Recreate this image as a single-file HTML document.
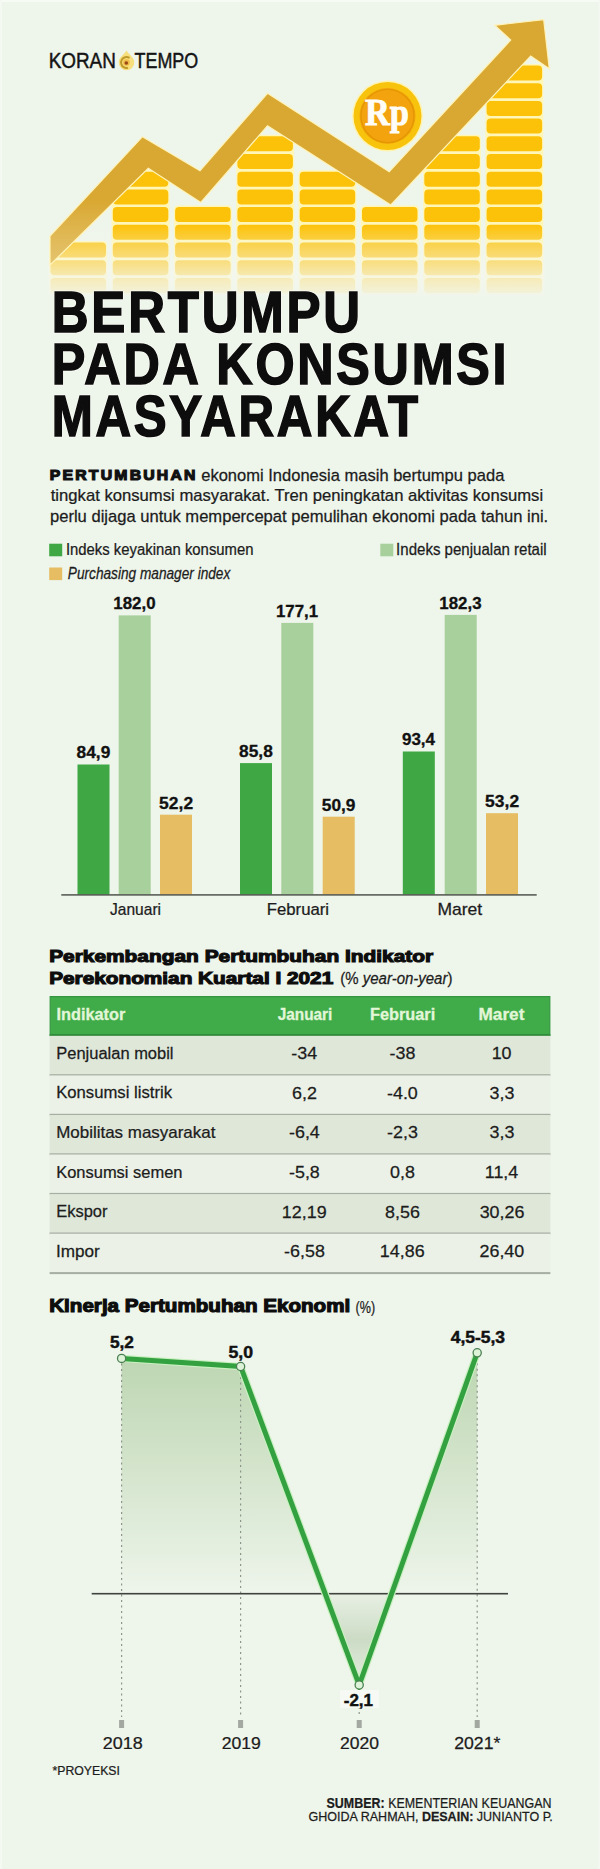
<!DOCTYPE html>
<html><head><meta charset="utf-8">
<style>
html,body{margin:0;padding:0;width:600px;height:1869px;overflow:hidden;background:#eef5eb;}
svg{display:block;}
text{font-family:"Liberation Sans",sans-serif;}
</style></head>
<body>
<svg width="600" height="1869" viewBox="0 0 600 1869">
<defs>
  <filter id="soft" x="-20%" y="-20%" width="140%" height="140%"><feGaussianBlur stdDeviation="0.45"/></filter>
  <linearGradient id="coinfade" gradientUnits="userSpaceOnUse" x1="0" y1="226" x2="0" y2="295">
    <stop offset="0" stop-color="#fff" stop-opacity="1"/>
    <stop offset="1" stop-color="#fff" stop-opacity="0.35"/>
  </linearGradient>
  <mask id="coinmask" maskUnits="userSpaceOnUse" x="0" y="0" width="600" height="300">
    <rect x="0" y="0" width="600" height="226" fill="#fff"/>
    <rect x="0" y="226" width="600" height="74" fill="url(#coinfade)"/>
  </mask>
  <linearGradient id="coinwash" gradientUnits="userSpaceOnUse" x1="0" y1="224" x2="0" y2="296">
    <stop offset="0" stop-color="#fbfaf0" stop-opacity="0"/>
    <stop offset="0.55" stop-color="#fbfaf0" stop-opacity="0.3"/>
    <stop offset="1" stop-color="#f1f6ec" stop-opacity="0.8"/>
  </linearGradient>
  <linearGradient id="bandg" gradientUnits="userSpaceOnUse" x1="0" y1="200" x2="0" y2="268">
    <stop offset="0" stop-color="#d9a832"/>
    <stop offset="1" stop-color="#e6c673"/>
  </linearGradient>
  <linearGradient id="areaUp" gradientUnits="userSpaceOnUse" x1="0" y1="1355" x2="0" y2="1593">
    <stop offset="0" stop-color="#b2cfa5" stop-opacity="0.82"/>
    <stop offset="0.55" stop-color="#b2cfa5" stop-opacity="0.38"/>
    <stop offset="1" stop-color="#b2cfa5" stop-opacity="0"/>
  </linearGradient>
  <linearGradient id="areaDown" gradientUnits="userSpaceOnUse" x1="0" y1="1594" x2="0" y2="1685">
    <stop offset="0" stop-color="#c9d8c2" stop-opacity="0.2"/>
    <stop offset="0.5" stop-color="#c3d5bb" stop-opacity="0.8"/>
    <stop offset="1" stop-color="#c9d8c2" stop-opacity="0.3"/>
  </linearGradient>
</defs>
<rect x="0" y="0" width="600" height="2" fill="#f6fbf4"/>
<rect x="0" y="0" width="2" height="1869" fill="#f4f9f2"/>
<rect x="598.5" y="0" width="1.5" height="1869" fill="#f3f9f1"/>
<g mask="url(#coinmask)">
<rect x="49.3" y="241.0" width="57.9" height="53.5" rx="4" fill="#fff6b8"/>
<rect x="50.5" y="242.5" width="55.5" height="15" rx="4" fill="#fcc20a"/>
<rect x="50.5" y="260.2" width="55.5" height="15" rx="4" fill="#fcc20a"/>
<rect x="50.5" y="277.9" width="55.5" height="15" rx="4" fill="#fcc20a"/>
<rect x="111.6" y="170.2" width="57.9" height="124.3" rx="4" fill="#fff6b8"/>
<rect x="112.8" y="171.7" width="55.5" height="15" rx="4" fill="#fcc20a"/>
<rect x="112.8" y="189.4" width="55.5" height="15" rx="4" fill="#fcc20a"/>
<rect x="112.8" y="207.1" width="55.5" height="15" rx="4" fill="#fcc20a"/>
<rect x="112.8" y="224.8" width="55.5" height="15" rx="4" fill="#fcc20a"/>
<rect x="112.8" y="242.5" width="55.5" height="15" rx="4" fill="#fcc20a"/>
<rect x="112.8" y="260.2" width="55.5" height="15" rx="4" fill="#fcc20a"/>
<rect x="112.8" y="277.9" width="55.5" height="15" rx="4" fill="#fcc20a"/>
<rect x="173.9" y="205.6" width="57.9" height="88.9" rx="4" fill="#fff6b8"/>
<rect x="175.1" y="207.1" width="55.5" height="15" rx="4" fill="#fcc20a"/>
<rect x="175.1" y="224.8" width="55.5" height="15" rx="4" fill="#fcc20a"/>
<rect x="175.1" y="242.5" width="55.5" height="15" rx="4" fill="#fcc20a"/>
<rect x="175.1" y="260.2" width="55.5" height="15" rx="4" fill="#fcc20a"/>
<rect x="175.1" y="277.9" width="55.5" height="15" rx="4" fill="#fcc20a"/>
<rect x="236.2" y="134.8" width="57.9" height="159.7" rx="4" fill="#fff6b8"/>
<rect x="237.4" y="136.3" width="55.5" height="15" rx="4" fill="#fcc20a"/>
<rect x="237.4" y="154.0" width="55.5" height="15" rx="4" fill="#fcc20a"/>
<rect x="237.4" y="171.7" width="55.5" height="15" rx="4" fill="#fcc20a"/>
<rect x="237.4" y="189.4" width="55.5" height="15" rx="4" fill="#fcc20a"/>
<rect x="237.4" y="207.1" width="55.5" height="15" rx="4" fill="#fcc20a"/>
<rect x="237.4" y="224.8" width="55.5" height="15" rx="4" fill="#fcc20a"/>
<rect x="237.4" y="242.5" width="55.5" height="15" rx="4" fill="#fcc20a"/>
<rect x="237.4" y="260.2" width="55.5" height="15" rx="4" fill="#fcc20a"/>
<rect x="237.4" y="277.9" width="55.5" height="15" rx="4" fill="#fcc20a"/>
<rect x="298.5" y="170.2" width="57.9" height="124.3" rx="4" fill="#fff6b8"/>
<rect x="299.7" y="171.7" width="55.5" height="15" rx="4" fill="#fcc20a"/>
<rect x="299.7" y="189.4" width="55.5" height="15" rx="4" fill="#fcc20a"/>
<rect x="299.7" y="207.1" width="55.5" height="15" rx="4" fill="#fcc20a"/>
<rect x="299.7" y="224.8" width="55.5" height="15" rx="4" fill="#fcc20a"/>
<rect x="299.7" y="242.5" width="55.5" height="15" rx="4" fill="#fcc20a"/>
<rect x="299.7" y="260.2" width="55.5" height="15" rx="4" fill="#fcc20a"/>
<rect x="299.7" y="277.9" width="55.5" height="15" rx="4" fill="#fcc20a"/>
<rect x="360.8" y="205.6" width="57.9" height="88.9" rx="4" fill="#fff6b8"/>
<rect x="362.0" y="207.1" width="55.5" height="15" rx="4" fill="#fcc20a"/>
<rect x="362.0" y="224.8" width="55.5" height="15" rx="4" fill="#fcc20a"/>
<rect x="362.0" y="242.5" width="55.5" height="15" rx="4" fill="#fcc20a"/>
<rect x="362.0" y="260.2" width="55.5" height="15" rx="4" fill="#fcc20a"/>
<rect x="362.0" y="277.9" width="55.5" height="15" rx="4" fill="#fcc20a"/>
<rect x="423.1" y="134.8" width="57.9" height="159.7" rx="4" fill="#fff6b8"/>
<rect x="424.3" y="136.3" width="55.5" height="15" rx="4" fill="#fcc20a"/>
<rect x="424.3" y="154.0" width="55.5" height="15" rx="4" fill="#fcc20a"/>
<rect x="424.3" y="171.7" width="55.5" height="15" rx="4" fill="#fcc20a"/>
<rect x="424.3" y="189.4" width="55.5" height="15" rx="4" fill="#fcc20a"/>
<rect x="424.3" y="207.1" width="55.5" height="15" rx="4" fill="#fcc20a"/>
<rect x="424.3" y="224.8" width="55.5" height="15" rx="4" fill="#fcc20a"/>
<rect x="424.3" y="242.5" width="55.5" height="15" rx="4" fill="#fcc20a"/>
<rect x="424.3" y="260.2" width="55.5" height="15" rx="4" fill="#fcc20a"/>
<rect x="424.3" y="277.9" width="55.5" height="15" rx="4" fill="#fcc20a"/>
<rect x="485.4" y="64.0" width="57.9" height="230.5" rx="4" fill="#fff6b8"/>
<rect x="486.6" y="65.5" width="55.5" height="15" rx="4" fill="#fcc20a"/>
<rect x="486.6" y="83.2" width="55.5" height="15" rx="4" fill="#fcc20a"/>
<rect x="486.6" y="100.9" width="55.5" height="15" rx="4" fill="#fcc20a"/>
<rect x="486.6" y="118.6" width="55.5" height="15" rx="4" fill="#fcc20a"/>
<rect x="486.6" y="136.3" width="55.5" height="15" rx="4" fill="#fcc20a"/>
<rect x="486.6" y="154.0" width="55.5" height="15" rx="4" fill="#fcc20a"/>
<rect x="486.6" y="171.7" width="55.5" height="15" rx="4" fill="#fcc20a"/>
<rect x="486.6" y="189.4" width="55.5" height="15" rx="4" fill="#fcc20a"/>
<rect x="486.6" y="207.1" width="55.5" height="15" rx="4" fill="#fcc20a"/>
<rect x="486.6" y="224.8" width="55.5" height="15" rx="4" fill="#fcc20a"/>
<rect x="486.6" y="242.5" width="55.5" height="15" rx="4" fill="#fcc20a"/>
<rect x="486.6" y="260.2" width="55.5" height="15" rx="4" fill="#fcc20a"/>
<rect x="486.6" y="277.9" width="55.5" height="15" rx="4" fill="#fcc20a"/>
</g>
<rect x="48.5" y="224" width="496" height="72" fill="url(#coinwash)"/>
<polygon fill="url(#bandg)" stroke="#fff3b8" stroke-width="1.2"
  points="50,236 142.5,136.7 200,170.8 267.5,93.3 389.2,171.7 510.7,40 494.7,25.3 543.7,19.6 549.3,68.7 530.7,56 390.8,205 267.5,125.8 200.8,202.5 148.3,168.3 50,265"/>
<circle cx="387.5" cy="116" r="35.5" fill="#fff3b0"/>
<circle cx="387.5" cy="116" r="34" fill="#f8c30c"/>
<circle cx="387.5" cy="116" r="28" fill="#f2a30e"/>
<circle cx="387.5" cy="116" r="26.5" fill="none" stroke="#e39600" stroke-width="1.2"/>
<text x="387" y="125" style="font-family:'Liberation Serif',serif;font-weight:bold;font-size:37px" fill="#fffdf5" stroke="#fffdf5" stroke-width="0.9" text-anchor="middle" textLength="44" lengthAdjust="spacingAndGlyphs">Rp</text>
<g filter="url(#soft)">
<path d="M126.5 50.5 C129 55 134.3 57 134.3 62.5 A7.8 7.8 0 0 1 118.7 62.5 C118.7 57 124 55 126.5 50.5 Z" fill="#f7df7e"/>
<circle cx="126.5" cy="62.5" r="5.4" fill="none" stroke="#bf9a2c" stroke-width="2" stroke-dasharray="21 13" transform="rotate(75 126.5 62.5)"/>
<circle cx="126.5" cy="62.5" r="3.3" fill="#f0bc48"/>
<circle cx="126.3" cy="63" r="1.8" fill="#9a4a18"/>
</g>
<rect x="49.2" y="543.7" width="13" height="12.6" fill="#3fa845"/>
<rect x="380.3" y="543.7" width="13" height="12.6" fill="#a8d09c"/>
<rect x="49.2" y="567.5" width="13" height="12.6" fill="#e6bd62"/>
<rect x="77.5" y="764.5" width="32" height="130.4" fill="#3fa845"/>
<rect x="118.7" y="615.4" width="32" height="279.5" fill="#a8d09c"/>
<rect x="160.0" y="814.7" width="32" height="80.2" fill="#e6bd62"/>
<rect x="240.0" y="763.1" width="32" height="131.8" fill="#3fa845"/>
<rect x="281.3" y="622.9" width="32" height="272.0" fill="#a8d09c"/>
<rect x="322.7" y="816.7" width="32" height="78.2" fill="#e6bd62"/>
<rect x="402.8" y="751.5" width="32" height="143.4" fill="#3fa845"/>
<rect x="444.7" y="614.9" width="32" height="280.0" fill="#a8d09c"/>
<rect x="486.0" y="813.2" width="32" height="81.7" fill="#e6bd62"/>
<rect x="61.3" y="894.1" width="475.4" height="1.6" fill="#5a5f58"/>
<rect x="50.2" y="996.6" width="499.6" height="38.6" fill="#3fab49" stroke="#36963f" stroke-width="1.2"/>
<rect x="49.6" y="1034.3" width="500.8" height="1.8" fill="#2a8535"/>
<rect x="49.6" y="1035.8" width="500.8" height="39.6" fill="#dfe7d9"/>
<rect x="49.6" y="1074.2" width="500.8" height="2" fill="#a6ada2"/>
<rect x="49.6" y="1075.4" width="500.8" height="39.6" fill="#ebf1e7"/>
<rect x="49.6" y="1113.8" width="500.8" height="2" fill="#a6ada2"/>
<rect x="49.6" y="1115.0" width="500.8" height="39.6" fill="#dfe7d9"/>
<rect x="49.6" y="1153.3" width="500.8" height="2" fill="#a6ada2"/>
<rect x="49.6" y="1154.5" width="500.8" height="39.6" fill="#ebf1e7"/>
<rect x="49.6" y="1192.9" width="500.8" height="2" fill="#a6ada2"/>
<rect x="49.6" y="1194.1" width="500.8" height="39.6" fill="#dfe7d9"/>
<rect x="49.6" y="1232.5" width="500.8" height="2" fill="#a6ada2"/>
<rect x="49.6" y="1233.7" width="500.8" height="39.6" fill="#ebf1e7"/>
<rect x="49.6" y="1272.1" width="500.8" height="2" fill="#a6ada2"/>
<polygon points="121.6,1593.7 121.6,1358.4 240.6,1366.5 325.2,1593.7 391.6,1593.7 477.2,1352.8 477.2,1593.7" fill="url(#areaUp)"/>
<polygon points="325.2,1593.7 359.2,1685 391.6,1593.7" fill="url(#areaDown)"/>
<line x1="121.6" y1="1363.4" x2="121.6" y2="1717" stroke="#8e958b" stroke-width="1.2" stroke-dasharray="2 3.5"/>
<rect x="119.1" y="1720" width="5" height="8" fill="#a3a8a0"/>
<line x1="240.6" y1="1371.5" x2="240.6" y2="1717" stroke="#8e958b" stroke-width="1.2" stroke-dasharray="2 3.5"/>
<rect x="238.1" y="1720" width="5" height="8" fill="#a3a8a0"/>
<line x1="359.2" y1="1690" x2="359.2" y2="1717" stroke="#8e958b" stroke-width="1.2" stroke-dasharray="2 3.5"/>
<rect x="356.7" y="1720" width="5" height="8" fill="#a3a8a0"/>
<line x1="477.2" y1="1357.8" x2="477.2" y2="1717" stroke="#8e958b" stroke-width="1.2" stroke-dasharray="2 3.5"/>
<rect x="474.7" y="1720" width="5" height="8" fill="#a3a8a0"/>
<rect x="91.7" y="1592.9" width="416.3" height="1.6" fill="#3f433d"/>
<polyline points="121.6,1358.4 240.6,1366.5 359.2,1685 477.2,1352.8" fill="none" stroke="#c9f0c0" stroke-width="7.4"/>
<polyline points="121.6,1358.4 240.6,1366.5 359.2,1685 477.2,1352.8" fill="none" stroke="#33a140" stroke-width="5"/>
<circle cx="121.6" cy="1358.4" r="4.1" fill="#dcf3d8" stroke="#4b7f52" stroke-width="1.3"/>
<circle cx="240.6" cy="1366.5" r="4.1" fill="#dcf3d8" stroke="#4b7f52" stroke-width="1.3"/>
<circle cx="359.2" cy="1685" r="4.1" fill="#dcf3d8" stroke="#4b7f52" stroke-width="1.3"/>
<circle cx="477.2" cy="1352.8" r="4.1" fill="#dcf3d8" stroke="#4b7f52" stroke-width="1.3"/>
<rect x="340" y="1690" width="39" height="18" fill="#f7faf4"/>
<text transform="translate(48.65 68.3) scale(0.8918 1)" style="font-size:21.19px;" fill="#141414" stroke="#141414" stroke-width="0.45">KORAN</text>
<text transform="translate(134.55 68.3) scale(0.8459 1)" style="font-size:21.19px;" fill="#141414" stroke="#141414" stroke-width="0.45">TEMPO</text>
<text transform="translate(51.72 331.7) scale(0.8945 1)" style="font-size:57.03px;font-weight:bold;letter-spacing:3.111px;" fill="none" stroke="#fbfdf6" stroke-width="3.2" stroke-linejoin="round" opacity="0.9">BERTUMPU</text><text transform="translate(51.72 331.7) scale(0.8945 1)" style="font-size:57.03px;font-weight:bold;letter-spacing:3.111px;" fill="#0d0d0d" stroke="#0d0d0d" stroke-width="1.6">BERTUMPU</text>
<text transform="translate(51.77 384.2) scale(0.8709 1)" style="font-size:57.75px;font-weight:bold;letter-spacing:3.150px;" fill="none" stroke="#fbfdf6" stroke-width="3.2" stroke-linejoin="round" opacity="0.9">PADA KONSUMSI</text><text transform="translate(51.77 384.2) scale(0.8709 1)" style="font-size:57.75px;font-weight:bold;letter-spacing:3.150px;" fill="#0d0d0d" stroke="#0d0d0d" stroke-width="1.6">PADA KONSUMSI</text>
<text transform="translate(51.84 436.2) scale(0.8532 1)" style="font-size:57.75px;font-weight:bold;letter-spacing:3.150px;" fill="none" stroke="#fbfdf6" stroke-width="3.2" stroke-linejoin="round" opacity="0.9">MASYARAKAT</text><text transform="translate(51.84 436.2) scale(0.8532 1)" style="font-size:57.75px;font-weight:bold;letter-spacing:3.150px;" fill="#0d0d0d" stroke="#0d0d0d" stroke-width="1.6">MASYARAKAT</text>
<text transform="translate(49.75 479.9) scale(1.1479 1)" style="font-size:13.76px;font-weight:bold;letter-spacing:1.926px;" fill="#111" stroke="#111" stroke-width="1.1">PERTUMBUHAN</text>
<text transform="translate(201.23 480.6) scale(1.0202 1)" style="font-size:16.2px;" fill="#1c1c1c" stroke="#1c1c1c" stroke-width="0.25">ekonomi Indonesia masih bertumpu pada</text>
<text transform="translate(50.74 501.2) scale(1.0286 1)" style="font-size:16.2px;" fill="#1c1c1c" stroke="#1c1c1c" stroke-width="0.25">tingkat konsumsi masyarakat. Tren peningkatan aktivitas konsumsi</text>
<text transform="translate(49.98 522) scale(1.0236 1)" style="font-size:16.2px;" fill="#1c1c1c" stroke="#1c1c1c" stroke-width="0.25">perlu dijaga untuk mempercepat pemulihan ekonomi pada tahun ini.</text>
<text transform="translate(65.9 555.3) scale(0.9264 1)" style="font-size:16.07px;" fill="#1c1c1c" stroke="#1c1c1c" stroke-width="0.25">Indeks keyakinan konsumen</text>
<text transform="translate(67.87 579.3) scale(0.8498 1)" style="font-size:16.07px;font-style:italic;" fill="#1c1c1c" stroke="#1c1c1c" stroke-width="0.25">Purchasing manager index</text>
<text transform="translate(396.09 555.3) scale(0.9368 1)" style="font-size:16.07px;" fill="#1c1c1c" stroke="#1c1c1c" stroke-width="0.25">Indeks penjualan retail</text>
<text transform="translate(76.62 758.32) scale(1.011 1)" style="font-size:17.12px;font-weight:bold;" fill="#111" stroke="#111" stroke-width="0.3">84,9</text>
<text transform="translate(113.32 609.2) scale(0.9856 1)" style="font-size:17.12px;font-weight:bold;" fill="#111" stroke="#111" stroke-width="0.3">182,0</text>
<text transform="translate(159.12 808.54) scale(1.02 1)" style="font-size:17.12px;font-weight:bold;" fill="#111" stroke="#111" stroke-width="0.3">52,2</text>
<text transform="translate(110.06 914.6) scale(0.976 1)" style="font-size:15.93px;" fill="#1c1c1c" stroke="#1c1c1c" stroke-width="0.25">Januari</text>
<text transform="translate(239.12 756.94) scale(1.011 1)" style="font-size:17.12px;font-weight:bold;" fill="#111" stroke="#111" stroke-width="0.3">85,8</text>
<text transform="translate(275.93 616.72) scale(0.9856 1)" style="font-size:17.12px;font-weight:bold;" fill="#111" stroke="#111" stroke-width="0.3">177,1</text>
<text transform="translate(321.82 810.53) scale(1.011 1)" style="font-size:17.12px;font-weight:bold;" fill="#111" stroke="#111" stroke-width="0.3">50,9</text>
<text transform="translate(266.69 914.6) scale(1.0527 1)" style="font-size:15.93px;" fill="#1c1c1c" stroke="#1c1c1c" stroke-width="0.25">Februari</text>
<text transform="translate(401.93 745.26) scale(0.9934 1)" style="font-size:17.12px;font-weight:bold;" fill="#111" stroke="#111" stroke-width="0.3">93,4</text>
<text transform="translate(439.32 608.74) scale(0.9856 1)" style="font-size:17.12px;font-weight:bold;" fill="#111" stroke="#111" stroke-width="0.3">182,3</text>
<text transform="translate(485.12 807.0) scale(1.02 1)" style="font-size:17.12px;font-weight:bold;" fill="#111" stroke="#111" stroke-width="0.3">53,2</text>
<text transform="translate(437.43 914.6) scale(1.0986 1)" style="font-size:15.93px;" fill="#1c1c1c" stroke="#1c1c1c" stroke-width="0.25">Maret</text>
<text transform="translate(49.15 961.5) scale(1.2393 1)" style="font-size:16.85px;font-weight:bold;" fill="#0d0d0d" stroke="#0d0d0d" stroke-width="1.1">Perkembangan Pertumbuhan Indikator</text>
<text transform="translate(49.16 983.5) scale(1.2344 1)" style="font-size:16.85px;font-weight:bold;" fill="#0d0d0d" stroke="#0d0d0d" stroke-width="1.1">Perekonomian Kuartal I 2021</text>
<text transform="translate(340.3 984.0) scale(0.9008 1)" style="font-size:16.65px;" fill="#1c1c1c" stroke="#1c1c1c" stroke-width="0.25">(% <tspan font-style='italic'>year-on-year</tspan>)</text>
<text transform="translate(56.48 1020.0) scale(1.007 1)" style="font-size:16.21px;font-weight:bold;" fill="#e2f6d8" stroke="#e2f6d8" stroke-width="0.3">Indikator</text>
<text transform="translate(277.66 1020.0) scale(0.9486 1)" style="font-size:16.21px;font-weight:bold;" fill="#e2f6d8" stroke="#e2f6d8" stroke-width="0.3">Januari</text>
<text transform="translate(369.98 1020.0) scale(1.0068 1)" style="font-size:16.21px;font-weight:bold;" fill="#e2f6d8" stroke="#e2f6d8" stroke-width="0.3">Februari</text>
<text transform="translate(478.52 1020.0) scale(1.0617 1)" style="font-size:16.21px;font-weight:bold;" fill="#e2f6d8" stroke="#e2f6d8" stroke-width="0.3">Maret</text>
<text transform="translate(56.21 1058.8) scale(1.0178 1)" style="font-size:16.21px;" fill="#1c1c1c" stroke="#1c1c1c" stroke-width="0.25">Penjualan mobil</text>
<text transform="translate(291.36 1059.2) scale(1.04 1)" style="font-size:17.21px;" fill="#1c1c1c" stroke="#1c1c1c" stroke-width="0.25">-34</text>
<text transform="translate(389.5 1059.2) scale(1.04 1)" style="font-size:17.21px;" fill="#1c1c1c" stroke="#1c1c1c" stroke-width="0.25">-38</text>
<text transform="translate(491.65 1059.2) scale(1.04 1)" style="font-size:17.21px;" fill="#1c1c1c" stroke="#1c1c1c" stroke-width="0.25">10</text>
<text transform="translate(56.2 1098.38) scale(1.0296 1)" style="font-size:16.21px;" fill="#1c1c1c" stroke="#1c1c1c" stroke-width="0.25">Konsumsi listrik</text>
<text transform="translate(292.06 1098.78) scale(1.04 1)" style="font-size:17.21px;" fill="#1c1c1c" stroke="#1c1c1c" stroke-width="0.25">6,2</text>
<text transform="translate(386.98 1098.78) scale(1.04 1)" style="font-size:17.21px;" fill="#1c1c1c" stroke="#1c1c1c" stroke-width="0.25">-4.0</text>
<text transform="translate(489.56 1098.78) scale(1.04 1)" style="font-size:17.21px;" fill="#1c1c1c" stroke="#1c1c1c" stroke-width="0.25">3,3</text>
<text transform="translate(56.17 1137.96) scale(1.0465 1)" style="font-size:16.21px;" fill="#1c1c1c" stroke="#1c1c1c" stroke-width="0.25">Mobilitas masyarakat</text>
<text transform="translate(288.98 1138.36) scale(1.04 1)" style="font-size:17.21px;" fill="#1c1c1c" stroke="#1c1c1c" stroke-width="0.25">-6,4</text>
<text transform="translate(387.12 1138.36) scale(1.04 1)" style="font-size:17.21px;" fill="#1c1c1c" stroke="#1c1c1c" stroke-width="0.25">-2,3</text>
<text transform="translate(489.56 1138.36) scale(1.04 1)" style="font-size:17.21px;" fill="#1c1c1c" stroke="#1c1c1c" stroke-width="0.25">3,3</text>
<text transform="translate(56.21 1177.54) scale(1.0171 1)" style="font-size:16.21px;" fill="#1c1c1c" stroke="#1c1c1c" stroke-width="0.25">Konsumsi semen</text>
<text transform="translate(288.98 1177.94) scale(1.04 1)" style="font-size:17.21px;" fill="#1c1c1c" stroke="#1c1c1c" stroke-width="0.25">-5,8</text>
<text transform="translate(390.06 1177.94) scale(1.04 1)" style="font-size:17.21px;" fill="#1c1c1c" stroke="#1c1c1c" stroke-width="0.25">0,8</text>
<text transform="translate(484.8 1177.94) scale(1.04 1)" style="font-size:17.21px;" fill="#1c1c1c" stroke="#1c1c1c" stroke-width="0.25">11,4</text>
<text transform="translate(56.21 1217.12) scale(1.0165 1)" style="font-size:16.21px;" fill="#1c1c1c" stroke="#1c1c1c" stroke-width="0.25">Ekspor</text>
<text transform="translate(281.85 1217.52) scale(1.04 1)" style="font-size:17.21px;" fill="#1c1c1c" stroke="#1c1c1c" stroke-width="0.25">12,19</text>
<text transform="translate(385.02 1217.52) scale(1.04 1)" style="font-size:17.21px;" fill="#1c1c1c" stroke="#1c1c1c" stroke-width="0.25">8,56</text>
<text transform="translate(479.63 1217.52) scale(1.04 1)" style="font-size:17.21px;" fill="#1c1c1c" stroke="#1c1c1c" stroke-width="0.25">30,26</text>
<text transform="translate(55.89 1256.7) scale(1.0602 1)" style="font-size:16.21px;" fill="#1c1c1c" stroke="#1c1c1c" stroke-width="0.25">Impor</text>
<text transform="translate(284.09 1257.1) scale(1.04 1)" style="font-size:17.21px;" fill="#1c1c1c" stroke="#1c1c1c" stroke-width="0.25">-6,58</text>
<text transform="translate(379.85 1257.1) scale(1.04 1)" style="font-size:17.21px;" fill="#1c1c1c" stroke="#1c1c1c" stroke-width="0.25">14,86</text>
<text transform="translate(479.49 1257.1) scale(1.04 1)" style="font-size:17.21px;" fill="#1c1c1c" stroke="#1c1c1c" stroke-width="0.25">26,40</text>
<text transform="translate(49.24 1311.9) scale(1.1658 1)" style="font-size:17.68px;font-weight:bold;" fill="#0d0d0d" stroke="#0d0d0d" stroke-width="1.1">Kinerja Pertumbuhan Ekonomi</text>
<text transform="translate(355.6 1313.0) scale(0.7773 1)" style="font-size:16.21px;" fill="#1c1c1c" stroke="#1c1c1c" stroke-width="0.25">(%)</text>
<text transform="translate(109.93 1348.4) scale(1.0334 1)" style="font-size:16.68px;font-weight:bold;" fill="#111" stroke="#111" stroke-width="0.45">5,2</text>
<text transform="translate(228.41 1358.0) scale(1.0607 1)" style="font-size:16.68px;font-weight:bold;" fill="#111" stroke="#111" stroke-width="0.45">5,0</text>
<text transform="translate(343.73 1705.7) scale(1.0453 1)" style="font-size:16.24px;font-weight:bold;" fill="#111" stroke="#111" stroke-width="0.45">-2,1</text>
<text transform="translate(450.71 1342.8) scale(1.1059 1)" style="font-size:15.8px;font-weight:bold;" fill="#111" stroke="#111" stroke-width="0.45">4,5-5,3</text>
<text transform="translate(102.66 1749.2) scale(1.0366 1)" style="font-size:17.35px;" fill="#1c1c1c" stroke="#1c1c1c" stroke-width="0.25">2018</text>
<text transform="translate(221.67 1749.2) scale(1.0171 1)" style="font-size:17.35px;" fill="#1c1c1c" stroke="#1c1c1c" stroke-width="0.25">2019</text>
<text transform="translate(339.98 1749.2) scale(1.0096 1)" style="font-size:17.35px;" fill="#1c1c1c" stroke="#1c1c1c" stroke-width="0.25">2020</text>
<text transform="translate(454.17 1749.2) scale(1.0183 1)" style="font-size:17.35px;" fill="#1c1c1c" stroke="#1c1c1c" stroke-width="0.25">2021*</text>
<text transform="translate(52.56 1775.0) scale(0.9224 1)" style="font-size:13.29px;" fill="#1c1c1c" stroke="#1c1c1c" stroke-width="0.25">*PROYEKSI</text>
<text transform="translate(326.52 1808.0) scale(0.8376 1)" style="font-size:14.88px;" fill="#1c1c1c" stroke="#1c1c1c" stroke-width="0.25"><tspan font-weight="bold">SUMBER:</tspan> KEMENTERIAN KEUANGAN</text>
<text transform="translate(308.58 1821.0) scale(0.933 1)" style="font-size:13.43px;" fill="#1c1c1c" stroke="#1c1c1c" stroke-width="0.25">GHOIDA RAHMAH, <tspan font-weight="bold">DESAIN:</tspan> JUNIANTO P.</text>
</svg>
</body></html>
